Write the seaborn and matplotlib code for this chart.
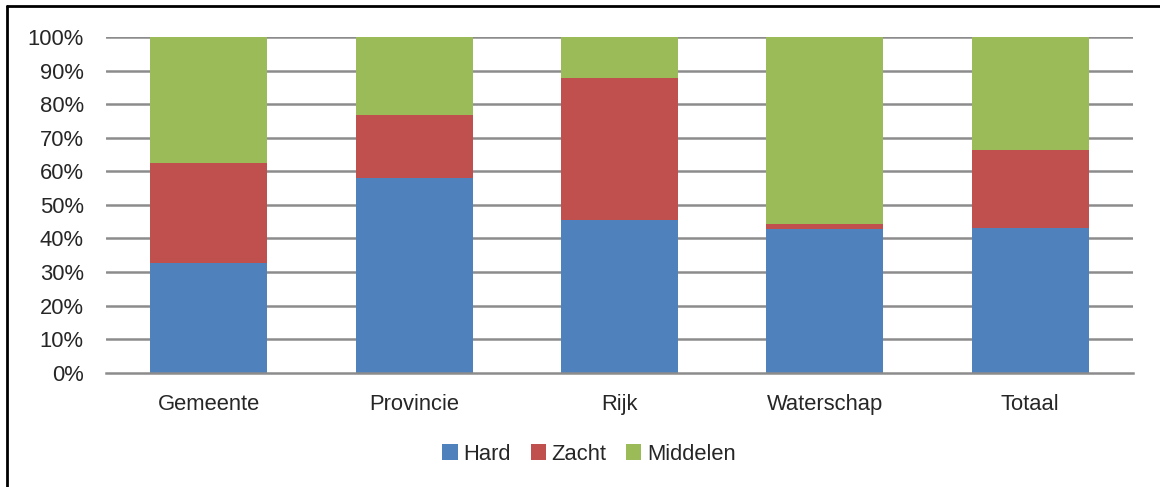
import numpy as np
import pandas as pd
import matplotlib
matplotlib.use("Agg")
import matplotlib.pyplot as plt
from matplotlib.lines import Line2D
from matplotlib.patches import Patch
import seaborn as sns

categories = ["Gemeente", "Provincie", "Rijk", "Waterschap", "Totaal"]
hard = [32.8, 58.0, 45.4, 42.9, 43.0]
zacht = [29.8, 18.8, 42.3, 1.4, 23.4]
middelen = [37.4, 23.2, 12.3, 55.7, 33.6]
series_names = ["Hard", "Zacht", "Middelen"]
colors = {"Hard": "#4F81BD", "Zacht": "#C0504D", "Middelen": "#9BBB59"}

sns.set_style("white")
plt.rcParams["font.family"] = ["Liberation Sans", "DejaVu Sans"]
fs = 15.8

df = pd.DataFrame({"cat": categories, "Hard": hard, "Zacht": zacht, "Middelen": middelen})
df["cum_hard"] = df["Hard"]
df["cum_zacht"] = df["Hard"] + df["Zacht"]
df["cum_mid"] = df["cum_zacht"] + df["Middelen"]

fig = plt.figure(figsize=(11.6, 4.87), dpi=100)
ax = fig.add_axes([106 / 1160, 1 - 372.7 / 487, (1133 - 106) / 1160, (372.7 - 37) / 487])

# stacked bars by drawing cumulative totals from top layer down
for col, name in [("cum_mid", "Middelen"), ("cum_zacht", "Zacht"), ("cum_hard", "Hard")]:
    sns.barplot(data=df, x="cat", y=col, color=colors[name], width=0.57,
                saturation=1, ax=ax, zorder=3, linewidth=0)

ax.set_ylim(0, 100)
ax.set_xlim(-0.5, 4.5)
ax.set_yticks(np.arange(0, 101, 10))
ax.set_yticklabels([f"{v}%" for v in range(0, 101, 10)], fontsize=fs)
ax.tick_params(axis="x", labelsize=fs, length=0, pad=15)
ax.tick_params(axis="y", length=0, pad=16)
ax.set_xlabel("")
ax.set_ylabel("")
for y in range(10, 101, 10):
    ax.axhline(y, color="#8c8c8c", lw=1.8, zorder=1)
for s in ["left", "right", "top"]:
    ax.spines[s].set_visible(False)
ax.spines["bottom"].set_color("#8c8c8c")
ax.spines["bottom"].set_linewidth(1.8)
ax.spines["bottom"].set_zorder(4)

handles = [Patch(facecolor=colors[n], edgecolor="none", label=n) for n in series_names]
fig.legend(handles=handles, loc="center", bbox_to_anchor=(589 / 1160, 1 - 454 / 487),
           ncol=3, frameon=False, fontsize=fs, handlelength=0.7, handleheight=0.7,
           handletextpad=0.25, columnspacing=0.9)

# outer frame (top and left edges visible)
fig.add_artist(Line2D([7.3 / 1160, 1], [1 - 6 / 487, 1 - 6 / 487], color="black", lw=2))
fig.add_artist(Line2D([7.3 / 1160, 7.3 / 1160], [0, 1 - 6 / 487], color="black", lw=2))

fig.savefig("out.png", dpi=100)
